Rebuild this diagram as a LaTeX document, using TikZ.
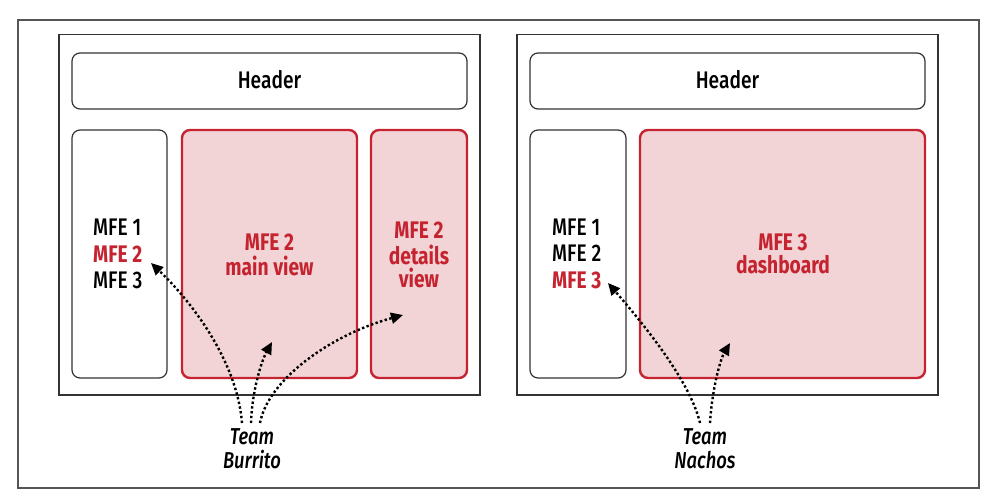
\documentclass[tikz,border=0pt]{standalone}
\usepackage{fontspec}
\setmainfont{Fira Sans}[UprightFont=* Medium, BoldFont=* Bold, ItalicFont=* Medium Italic, FakeStretch=0.8]
\usetikzlibrary{arrows.meta}
\definecolor{mred}{HTML}{C4232F}
\definecolor{mpink}{HTML}{F2D4D6}
\definecolor{frame}{HTML}{555555}
\definecolor{dark}{HTML}{333333}
\begin{document}
\begin{tikzpicture}[x=1pt,y=-1pt,
  outer/.style={draw=frame,line width=1.5pt,rectangle,inner sep=0pt},
  panel/.style={draw=dark,line width=1.5pt,rectangle,inner sep=0pt},
  plainbox/.style={draw=dark,line width=1.2pt,rectangle,rounded corners=8pt,fill=white,inner sep=0pt},
  redbox/.style={draw=mred,line width=2.4pt,rectangle,rounded corners=8pt,fill=mpink,inner sep=0pt},
  txt/.style={font=\fontsize{24}{26}\selectfont,inner sep=0pt,anchor=base},
  ltxt/.style={txt,anchor=base west},
  rtxt/.style={txt,text=mred,font=\fontsize{24}{26}\selectfont\bfseries},
  lrtxt/.style={rtxt,anchor=base west},
  team/.style={font=\fontsize{23}{24}\selectfont\itshape,inner sep=0pt,align=center,anchor=north},
  dots/.style={line width=2.4pt,dash pattern=on 2.4pt off 2.4pt,-{Triangle[length=12pt,width=11pt]}}
]
\useasboundingbox (0,0) rectangle (996,500);
\node[outer,minimum width=961pt,minimum height=468pt] (OUT) at (498.5,254) {};
% left panel
\node[panel,minimum width=421pt,minimum height=360.5pt] (LP) at (269.5,214.75) {};
\node[plainbox,minimum width=395pt,minimum height=56pt] (LH) at (269.5,81) {};
\node[plainbox,minimum width=95pt,minimum height=248pt] (LS) at (119.5,254) {};
\node[redbox,minimum width=175pt,minimum height=248pt] (LM) at (269.5,254) {};
\node[redbox,minimum width=96pt,minimum height=248pt] (LD) at (419,254) {};
\node[txt] (LHt) at (269.5,88.5) {Header};
\node[ltxt] (L1) at (93,235) {MFE 1};
\node[lrtxt] (L2) at (93,262) {MFE 2};
\node[ltxt] (L3) at (93,288) {MFE 3};
\node[rtxt] (LMa) at (269.5,250) {MFE 2};
\node[rtxt] (LMb) at (269.5,275) {main view};
\node[rtxt] (LDa) at (419,238) {MFE 2};
\node[rtxt] (LDb) at (419,264) {details};
\node[rtxt] (LDc) at (419,287) {view};
\node[team] (TB) at (252,428) {Team\\Burrito};
\coordinate (LT1) at (151,263);
\coordinate (LT2) at (272,342);
\coordinate (LT3) at (403,315);
\draw[dots] ([xshift=-10pt,yshift=5pt]TB.north) .. controls (237,360) and (190,300) .. (LT1);
\draw[dots] ([xshift=-1pt,yshift=5pt]TB.north) .. controls (252,390) and (262,360) .. (LT2);
\draw[dots] ([xshift=8pt,yshift=5pt]TB.north) .. controls (268,380) and (330,335) .. (LT3);
% right panel
\node[panel,minimum width=421pt,minimum height=360.5pt] (RP) at (727.5,214.75) {};
\node[plainbox,minimum width=395pt,minimum height=56pt] (RH) at (727.5,81) {};
\node[plainbox,minimum width=96pt,minimum height=248pt] (RS) at (578,254) {};
\node[redbox,minimum width=285pt,minimum height=248pt] (RD) at (782.5,254) {};
\node[txt] (RHt) at (727.5,88.5) {Header};
\node[ltxt] (R1) at (552,235) {MFE 1};
\node[ltxt] (R2) at (552,261) {MFE 2};
\node[lrtxt] (R3) at (552,288) {MFE 3};
\node[rtxt] (RDa) at (783,250) {MFE 3};
\node[rtxt] (RDb) at (783,273) {dashboard};
\node[team] (TN) at (705,428) {Team\\Nachos};
\coordinate (RT1) at (608,283);
\coordinate (RT2) at (730,343);
\draw[dots] ([xshift=-5pt,yshift=5pt]TN.north) .. controls (690,380) and (640,320) .. (RT1);
\draw[dots] ([xshift=5pt,yshift=5pt]TN.north) .. controls (712,390) and (720,360) .. (RT2);
\end{tikzpicture}
\end{document}
